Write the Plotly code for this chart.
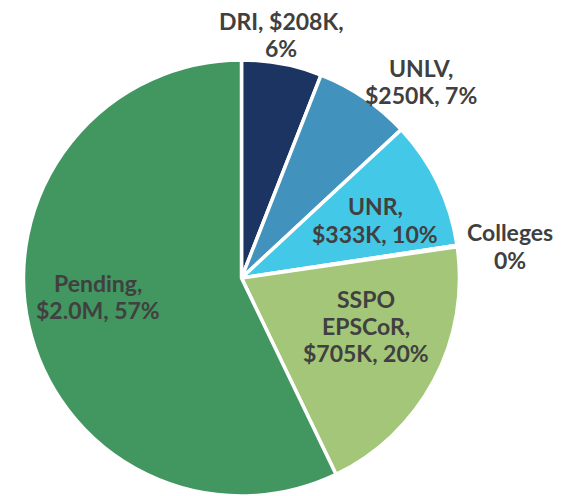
import plotly.graph_objects as go

# slices, clockwise from 12 o'clock
labels = ["DRI", "UNLV", "UNR", "Colleges", "SSPO EPSCoR", "Pending"]
values_k = [208, 250, 333, 4, 705, 2000]
colors = ["#1B3461", "#4292BE", "#44C8E8", "#8C8C8C", "#A3C678", "#429660"]

label_lines = [
    ["DRI, $208K,", "6%"],
    ["UNLV,", "$250K, 7%"],
    ["UNR,", "$333K, 10%"],
    ["Colleges", "0%"],
    ["SSPO", "EPSCoR,", "$705K, 20%"],
    ["Pending,", "$2.0M, 57%"],
]
# label centres in window pixels (x, y from top)
label_pos = [(281, 35), (421, 81), (375, 220), (510, 246), (366, 326), (98, 296)]
LINE = 27  # line spacing, px

# the page body has an 8px margin, so the figure starts at (8, 8)
OFF = 8
W, H = 562 - OFF, 496 - OFF

fig = go.Figure()
fig.add_trace(
    go.Pie(
        labels=labels,
        values=values_k,
        sort=False,
        direction="clockwise",
        rotation=0,
        marker=dict(colors=colors, line=dict(color="white", width=3.5)),
        textinfo="none",
        hoverinfo="label+value+percent",
        domain=dict(x=[(23.5 - OFF) / W, (459.5 - OFF) / W], y=[0, 436 / H]),
        showlegend=False,
    )
)

for lines, (px, py) in zip(label_lines, label_pos):
    top = py - LINE * (len(lines) - 1) / 2
    for i, line in enumerate(lines):
        fig.add_annotation(
            text="<b>" + line + "</b>",
            x=(px - OFF) / W,
            y=1 - (top + i * LINE - OFF) / H,
            xref="paper",
            yref="paper",
            xanchor="center",
            yanchor="middle",
            showarrow=False,
            font=dict(family="Lato", size=23, color="#404040"),
        )

fig.update_layout(
    width=W,
    height=H,
    margin=dict(l=0, r=0, t=0, b=0),
    paper_bgcolor="white",
    plot_bgcolor="white",
)

fig.write_html("out.html")
